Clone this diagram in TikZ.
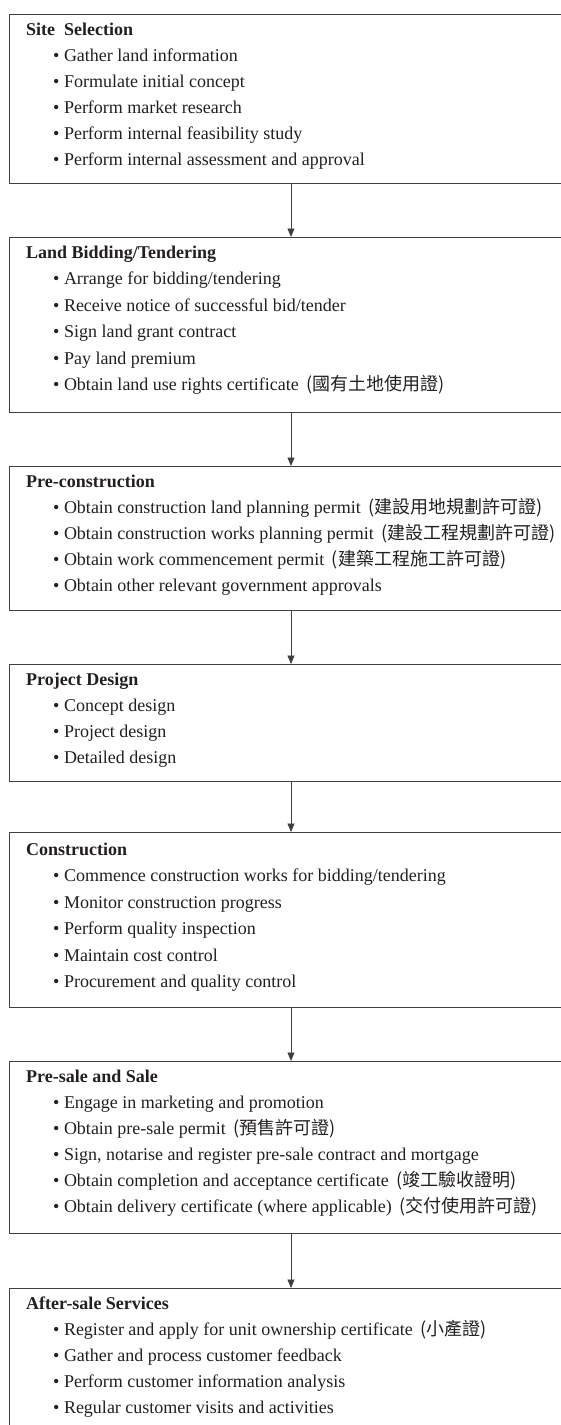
\documentclass[tikz,border=0pt]{standalone}
\usepackage{fontspec}
\setmainfont{Liberation Serif}
\newfontfamily\cjk{Noto Sans CJK TC}
\usetikzlibrary{arrows.meta}
\usetikzlibrary{positioning}
\usetikzlibrary{calc}

\definecolor{linegray}{HTML}{404040}
\definecolor{inkblack}{HTML}{231F20}
\newcommand{\zh}[1]{\hspace{3pt}{\cjk\fontsize{18}{20}\selectfont (#1)}}

\begin{document}
\begin{tikzpicture}[x=1pt,y=-1pt,
    stagebox/.style={draw=linegray,line width=1.1pt,anchor=north west,minimum width=580pt,inner sep=0pt},
    heading/.style={anchor=base west,inner sep=0pt,text=inkblack,font=\fontsize{18}{20}\selectfont\bfseries},
    item/.style={anchor=base west,inner sep=0pt,text=inkblack,font=\fontsize{18}{20}\selectfont},
    flow/.style={draw=linegray,line width=0.9pt,-{Triangle[length=8.5pt,width=7pt]}}]
    \clip (0,0) rectangle (561,1425);
    \useasboundingbox (0,0) rectangle (561,1425);
    \coordinate (axis) at (291,0);

    % stages
    \node[stagebox,minimum height=169pt] (site) at (9,14) {};
    \node[heading] (site-t) at ($(site.north west)+(17,21)$) {Site\ \ Selection};
    \foreach \txt [count=\i] in {Gather land information,Formulate initial concept,Perform market research,Perform internal feasibility study,Perform internal assessment and approval}{
      \node[item] (site-\i) at ($(site.north west)+(44,{21+26*\i})$) {\textbullet\ \txt};
    }

    \node[stagebox,minimum height=175pt] (bid) at (9,237) {};
    \node[heading] (bid-t) at ($(bid.north west)+(17,21)$) {Land Bidding/Tendering};
    \foreach \txt [count=\i] in {Arrange for bidding/tendering,Receive notice of successful bid/tender,Sign land grant contract,Pay land premium,Obtain land use rights certificate \zh{國有土地使用證}}{
      \node[item] (bid-\i) at ($(bid.north west)+(44,{21+26.5*\i})$) {\textbullet\ \txt};
    }

    \node[stagebox,minimum height=144pt] (precon) at (9,466) {};
    \node[heading] (precon-t) at ($(precon.north west)+(17,21)$) {Pre-construction};
    \foreach \txt [count=\i] in {Obtain construction land planning permit \zh{建設用地規劃許可證},Obtain construction works planning permit \zh{建設工程規劃許可證},Obtain work commencement permit \zh{建築工程施工許可證},Obtain other relevant government approvals}{
      \node[item] (precon-\i) at ($(precon.north west)+(44,{21+26*\i})$) {\textbullet\ \txt};
    }

    \node[stagebox,minimum height=117pt] (design) at (9,664) {};
    \node[heading] (design-t) at ($(design.north west)+(17,21)$) {Project Design};
    \foreach \txt [count=\i] in {Concept design,Project design,Detailed design}{
      \node[item] (design-\i) at ($(design.north west)+(44,{21+26*\i})$) {\textbullet\ \txt};
    }

    \node[stagebox,minimum height=175pt] (build) at (9,832) {};
    \node[heading] (build-t) at ($(build.north west)+(17,23)$) {Construction};
    \foreach \txt [count=\i] in {Commence construction works for bidding/tendering,Monitor construction progress,Perform quality inspection,Maintain cost control,Procurement and quality control}{
      \node[item] (build-\i) at ($(build.north west)+(44,{23+26.5*\i})$) {\textbullet\ \txt};
    }

    \node[stagebox,minimum height=172pt] (sale) at (9,1061) {};
    \node[heading] (sale-t) at ($(sale.north west)+(17,21)$) {Pre-sale and Sale};
    \foreach \txt [count=\i] in {Engage in marketing and promotion,Obtain pre-sale permit \zh{預售許可證},{Sign, notarise and register pre-sale contract and mortgage},Obtain completion and acceptance certificate \zh{竣工驗收證明},Obtain delivery certificate (where applicable) \zh{交付使用許可證}}{
      \node[item] (sale-\i) at ($(sale.north west)+(44,{21+26*\i})$) {\textbullet\ \txt};
    }

    \node[stagebox,minimum height=200pt] (after) at (9,1288) {};
    \node[heading] (after-t) at ($(after.north west)+(17,21)$) {After-sale Services};
    \foreach \txt [count=\i] in {Register and apply for unit ownership certificate \zh{小產證},Gather and process customer feedback,Perform customer information analysis,Regular customer visits and activities}{
      \node[item] (after-\i) at ($(after.north west)+(44,{21+26*\i})$) {\textbullet\ \txt};
    }

    % connectors
    \draw[flow] (site.south -| axis) -- (bid.north -| axis);
    \draw[flow] (bid.south -| axis) -- (precon.north -| axis);
    \draw[flow] (precon.south -| axis) -- (design.north -| axis);
    \draw[flow] (design.south -| axis) -- (build.north -| axis);
    \draw[flow] (build.south -| axis) -- (sale.north -| axis);
    \draw[flow] (sale.south -| axis) -- (after.north -| axis);
\end{tikzpicture}
\end{document}
